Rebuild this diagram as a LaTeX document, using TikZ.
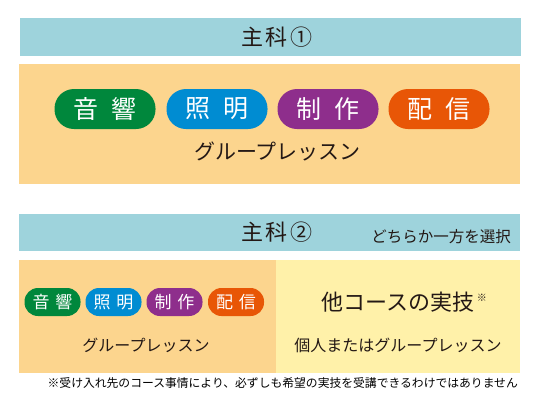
\documentclass[tikz,border=0pt]{standalone}
\usepackage{fontspec}
\setmainfont{Noto Sans CJK JP}
\definecolor{headblue}{RGB}{158,211,220}
\definecolor{boxorange}{RGB}{252,213,142}
\definecolor{boxyellow}{RGB}{255,241,169}
\definecolor{pgreen}{RGB}{0,135,60}
\definecolor{pblue}{RGB}{0,140,210}
\definecolor{ppurple}{RGB}{142,46,140}
\definecolor{porange}{RGB}{232,86,6}
\definecolor{ink}{RGB}{35,24,21}
\tikzset{
  panel/.style={inner sep=0pt, outer sep=0pt},
  bigpill/.style={inner sep=0pt, minimum width=101pt, minimum height=40pt, rounded corners=19.5pt, text=white, font=\fontsize{25}{25}\selectfont},
  smallpill/.style={inner sep=0pt, minimum width=56pt, minimum height=28pt, rounded corners=13.5pt, text=white, font=\fontsize{17}{17}\selectfont},
  label/.style={inner sep=0pt, text=ink},
}
\begin{document}
\begin{tikzpicture}[x=1pt,y=-1pt]
\useasboundingbox (0,0) rectangle (537,400);
\fill[white] (0,0) rectangle (537,400);
% panels
\node[panel, fill=headblue, minimum width=501pt, minimum height=38pt] (h1) at (270.5,37) {};
\node[panel, fill=boxorange, minimum width=501pt, minimum height=120pt] (b1) at (269.5,124) {};
\node[panel, fill=headblue, minimum width=501pt, minimum height=37pt] (h2) at (269.5,232.5) {};
\node[panel, fill=boxorange, minimum width=257pt, minimum height=113pt] (b2l) at (147.5,316.5) {};
\node[panel, fill=boxyellow, minimum width=244pt, minimum height=113pt] (b2r) at (398,316.5) {};
% headers
\node[label, font=\fontsize{22}{22}\selectfont] (t1) at (277,37.5) {主\hspace{2.5pt}科\hspace{3pt}①};
\node[label, font=\fontsize{22}{22}\selectfont] (t2) at (277,232) {主\hspace{2.5pt}科\hspace{3pt}②};
\node[label, font=\fontsize{15.5}{15.5}\selectfont, anchor=east] (sel) at (511,236.5) {どちらか一方を選択};
% big pills
\node[bigpill, fill=pgreen] (p1) at (105,109) {音\hspace{0.5em}響};
\node[bigpill, fill=pblue] (p2) at (217,109) {照\hspace{0.5em}明};
\node[bigpill, fill=ppurple] (p3) at (328,109) {制\hspace{0.5em}作};
\node[bigpill, fill=porange] (p4) at (439,109) {配\hspace{0.5em}信};
\node[label, font=\fontsize{21}{21}\selectfont] (g1) at (277.5,151.5) {グループレッスン};
% small pills
\node[smallpill, fill=pgreen] (s1) at (52.5,302) {音\hspace{0.35em}響};
\node[smallpill, fill=pblue] (s2) at (113.5,302) {照\hspace{0.35em}明};
\node[smallpill, fill=ppurple] (s3) at (174.5,302) {制\hspace{0.35em}作};
\node[smallpill, fill=porange] (s4) at (236,302) {配\hspace{0.35em}信};
\node[label, font=\fontsize{16}{16}\selectfont] (g2) at (146,345.5) {グループレッスン};
% right side
\node[label, font=\fontsize{22}{22}\selectfont] (oth) at (398,302.5) {他コースの実技};
\node[label, font=\fontsize{10}{10}\selectfont, anchor=west] (mark) at (oth.east) [yshift=5pt, xshift=2pt] {※};
\node[label, font=\fontsize{16}{16}\selectfont] (ind) at (398,345.5) {個人またはグループレッスン};
% footnote
\node[label, text=black, font=\fontsize{11.8}{11.8}\selectfont, anchor=east] (fn) at (518,383.5) {※受け入れ先のコース事情により、必ずしも希望の実技を受講できるわけではありません};
\end{tikzpicture}
\end{document}
